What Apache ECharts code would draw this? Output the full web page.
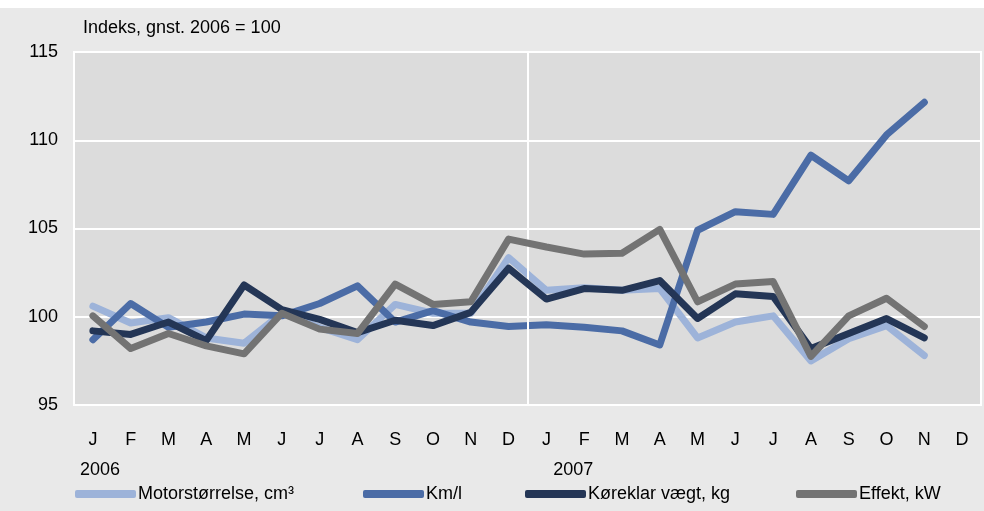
<!DOCTYPE html>
<html>
<head>
<meta charset="utf-8">
<script src="https://cdn.jsdelivr.net/npm/echarts@6/dist/echarts.min.js"></script>
<style>
html,body{margin:0;padding:0;background:#fff;}
#c{width:984px;height:511px;}
</style>
</head>
<body>
<div id="c"></div>
<script>
var months = ['J','F','M','A','M','J','J','A','S','O','N','D','J','F','M','A','M','J','J','A','S','O','N','D'];
var yearLabels = ['2006','','','','','','','','','','','','2007','','','','','','','','','','',''];
var yTicks = { min: 95, max: 115, interval: 5 };
var yearBreak = 12; // number of months before the 2006/2007 separator

var motor = [100.6,99.65,99.95,98.8,98.5,100.2,99.4,98.7,100.7,100.2,100.2,103.35,
             101.5,101.65,101.5,101.6,98.8,99.7,100.05,97.5,98.75,99.5,97.8,null];
var kml   = [98.7,100.75,99.4,99.7,100.15,100.05,100.75,101.75,99.7,100.35,99.7,99.45,
             99.55,99.4,99.2,98.4,104.9,105.95,105.8,109.15,107.7,110.3,112.15,null];
var vaegt = [99.2,99.0,99.7,98.65,101.8,100.4,99.85,99.1,99.8,99.5,100.25,102.75,
             101.0,101.6,101.5,102.05,99.9,101.3,101.15,98.2,99.05,99.9,98.8,null];
var effekt= [100.05,98.2,99.05,98.35,97.9,100.2,99.3,99.05,101.85,100.7,100.85,104.4,
             103.95,103.55,103.6,104.95,100.85,101.85,102.0,97.75,100.05,101.05,99.45,null];

var names = ['Motorstørrelse, cm³','Km/l','Køreklar vægt, kg','Effekt, kW'];
var colors = ['#9db3d9','#4b6ca6','#243656','#737373'];
var datasets = [motor, kml, vaegt, effekt];
var legendLeft = [75, 363, 525, 796];

var FONT = "'Liberation Sans', Arial, sans-serif";
var chart = echarts.init(document.getElementById('c'));

var series = [{
  type: 'line', data: [], xAxisIndex: 2, silent: true, z: 1,
  markLine: { symbol: 'none', silent: true, label: { show: false },
    lineStyle: { color: '#ffffff', width: 2, type: 'solid' },
    data: [{ xAxis: yearBreak }] }
}];
datasets.forEach(function(d, i){
  series.push({
    name: names[i], type: 'line', data: d, symbol: 'none', xAxisIndex: 0,
    lineStyle: { width: 7, color: colors[i], cap: 'round', join: 'round' },
    itemStyle: { color: colors[i] },
    z: 3 + i
  });
});

var legends = names.map(function(n, i){
  return {
    data: [{ name: n, icon: 'roundRect' }],
    left: legendLeft[i], top: 485, padding: 0,
    itemWidth: 61, itemHeight: 8,
    textStyle: { fontFamily: FONT, fontSize: 18, color: '#000', padding: [5,0,0,-3] },
    selectedMode: false
  };
});

chart.setOption({
  backgroundColor: '#e9e9e9',
  animation: false,
  textStyle: { fontFamily: FONT },
  graphic: [{ type: 'rect', shape: { x: 0, y: 0, width: 984, height: 8 }, style: { fill: '#fff' }, z: 100 }],
  title: { text: 'Indeks, gnst. 2006 = 100', left: 78, top: 14,
    textStyle: { fontFamily: FONT, fontSize: 18, fontWeight: 'normal', color: '#000' } },
  legend: legends,
  grid: { left: 74, right: 2, top: 52, bottom: 106, show: true,
    backgroundColor: '#dcdcdc', borderColor: '#ffffff', borderWidth: 2 },
  xAxis: [{
    type: 'category', data: months, boundaryGap: true,
    axisLine: { show: false }, axisTick: { show: false },
    axisLabel: { margin: 26, fontFamily: FONT, fontSize: 18, color: '#000', interval: 0 },
    splitLine: { show: false }
  }, {
    type: 'category', data: yearLabels, boundaryGap: false, position: 'bottom',
    axisLine: { show: false }, axisTick: { show: false },
    axisLabel: { margin: 56, fontFamily: FONT, fontSize: 18, color: '#000', interval: 0,
      align: 'left', padding: [0,0,0,6] },
    splitLine: { show: false }
  }, {
    type: 'value', min: 0, max: months.length, show: false
  }],
  yAxis: {
    type: 'value', min: yTicks.min, max: yTicks.max, interval: yTicks.interval,
    axisLine: { show: false }, axisTick: { show: false },
    axisLabel: { margin: 16, fontFamily: FONT, fontSize: 18, color: '#000' },
    splitLine: { show: true, lineStyle: { color: '#ffffff', width: 2 } }
  },
  series: series
});
</script>
</body>
</html>
